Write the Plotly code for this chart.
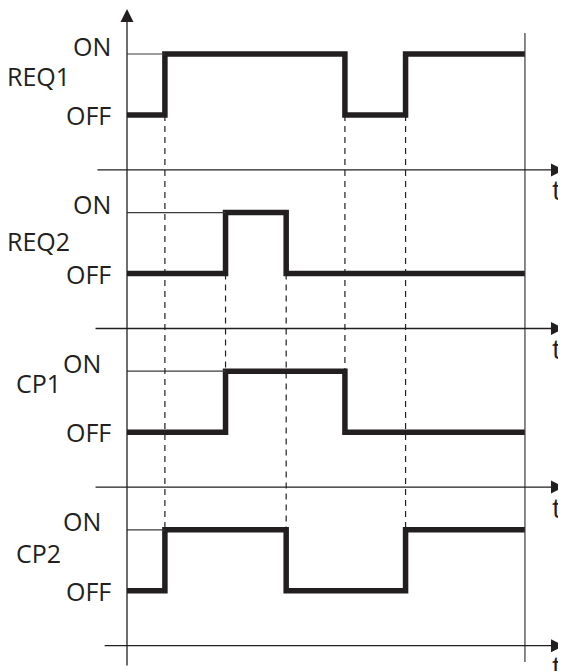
import plotly.graph_objects as go

# timing diagram: two requests and two compressors
signal_names = ["REQ1", "REQ2", "CP1", "CP2"]
edge_times = [0.0, 1.0, 2.6, 4.2, 5.75, 7.35, 10.5]
req1_states = [0, 1, 1, 1, 0, 1]
req2_states = [0, 0, 1, 0, 0, 0]
cp1_states = [0, 0, 1, 1, 0, 0]
cp2_states = [0, 1, 1, 0, 0, 1]
level_labels = ["OFF", "ON"]
time_label = "t"

all_states = [req1_states, req2_states, cp1_states, cp2_states]

PAD = 8           # page body margin
W, H = 566 - PAD, 671 - PAD
PX_T = 37.9       # pixels per time unit
X0 = 127 - PAD    # pixel column of t = 0
PX_Y = 61         # pixels per level unit
Y0 = 115 - PAD    # pixel row of the first OFF level
LANE_GAP = 2.6
INK = "#231f20"
THIN = "#3a3a3a"
FONT = "Open Sans"
FS = 25

name_dy = [0.64, 0.53, 0.80, 0.62]
on_label_x = [-0.37, -0.37, -0.63, -0.63]
axis_start = [-0.82, -0.87, -0.87, -0.63]
axis_dy = 0.9
t_tip = 11.53

t_end = edge_times[-1]


def base(i):
    return -i * LANE_GAP


def py(px_row):
    # page pixel row -> level units
    return (Y0 - (px_row - PAD)) / PX_Y


fig = go.Figure()

# signals
for i, states in enumerate(all_states):
    b = base(i)
    fig.add_trace(go.Scatter(
        x=edge_times,
        y=[b + s for s in states] + [b + states[-1]],
        mode="lines",
        line=dict(color=INK, width=5.5, shape="hv"),
        hoverinfo="skip",
        showlegend=False,
    ))
    # thin ON reference line up to the first switch-on
    t_on = edge_times[states.index(1)]
    fig.add_trace(go.Scatter(
        x=[0, t_on], y=[b + 1, b + 1],
        mode="lines", line=dict(color=THIN, width=1.2),
        hoverinfo="skip", showlegend=False,
    ))

# dashed guides between the lanes that switch at the same time
for k in range(1, len(edge_times) - 1):
    lanes = [i for i, st in enumerate(all_states) if st[k] != st[k - 1]]
    if len(lanes) < 2:
        continue
    top, bot = lanes[0], lanes[-1]
    fig.add_trace(go.Scatter(
        x=[edge_times[k], edge_times[k]],
        y=[base(top), base(bot) + 1],
        mode="lines", line=dict(color=INK, width=1.2, dash="6px,5px"),
        hoverinfo="skip", showlegend=False,
    ))

ann = []
arrow = dict(text="", showarrow=True, axref="x", ayref="y", arrowcolor=INK,
             arrowwidth=1.3, arrowhead=2, arrowsize=2.0, standoff=0)

# vertical axis
ann.append(dict(x=0, y=py(9), ax=0, ay=py(667), **arrow))

# time axes
for i in range(4):
    ya = base(i) - axis_dy
    ann.append(dict(x=t_tip, y=ya, ax=axis_start[i], ay=ya, **arrow))
    ann.append(dict(x=11.35, y=ya, text=time_label, showarrow=False,
                    yshift=-20, font=dict(family=FONT, size=27, color=INK)))

# end-of-observation line
shapes = [dict(type="line", xref="x", yref="y", x0=t_end, x1=t_end,
               y0=py(33), y1=py(662), line=dict(color=THIN, width=1.2))]

# level and signal labels
for i, name in enumerate(signal_names):
    b = base(i)
    ann.append(dict(x=(38 - PAD - X0) / PX_T, y=b + name_dy[i], text=name, showarrow=False,
                    xanchor="center", font=dict(family=FONT, size=FS, color=INK)))
    ann.append(dict(x=-0.37, y=b, text=level_labels[0], showarrow=False,
                    xanchor="right", font=dict(family=FONT, size=FS, color=INK)))
    ann.append(dict(x=on_label_x[i], y=b + 1, text=level_labels[1], showarrow=False,
                    xanchor="right", yshift=8.5, font=dict(family=FONT, size=FS, color=INK)))

fig.update_layout(
    width=W, height=H,
    margin=dict(l=0, r=0, t=0, b=0),
    plot_bgcolor="white", paper_bgcolor="white",
    xaxis=dict(visible=False, range=[-X0 / PX_T, (W - X0) / PX_T]),
    yaxis=dict(visible=False, range=[(Y0 - H) / PX_Y, Y0 / PX_Y]),
    annotations=ann,
    shapes=shapes,
    showlegend=False,
)

fig.write_html("out.html")
